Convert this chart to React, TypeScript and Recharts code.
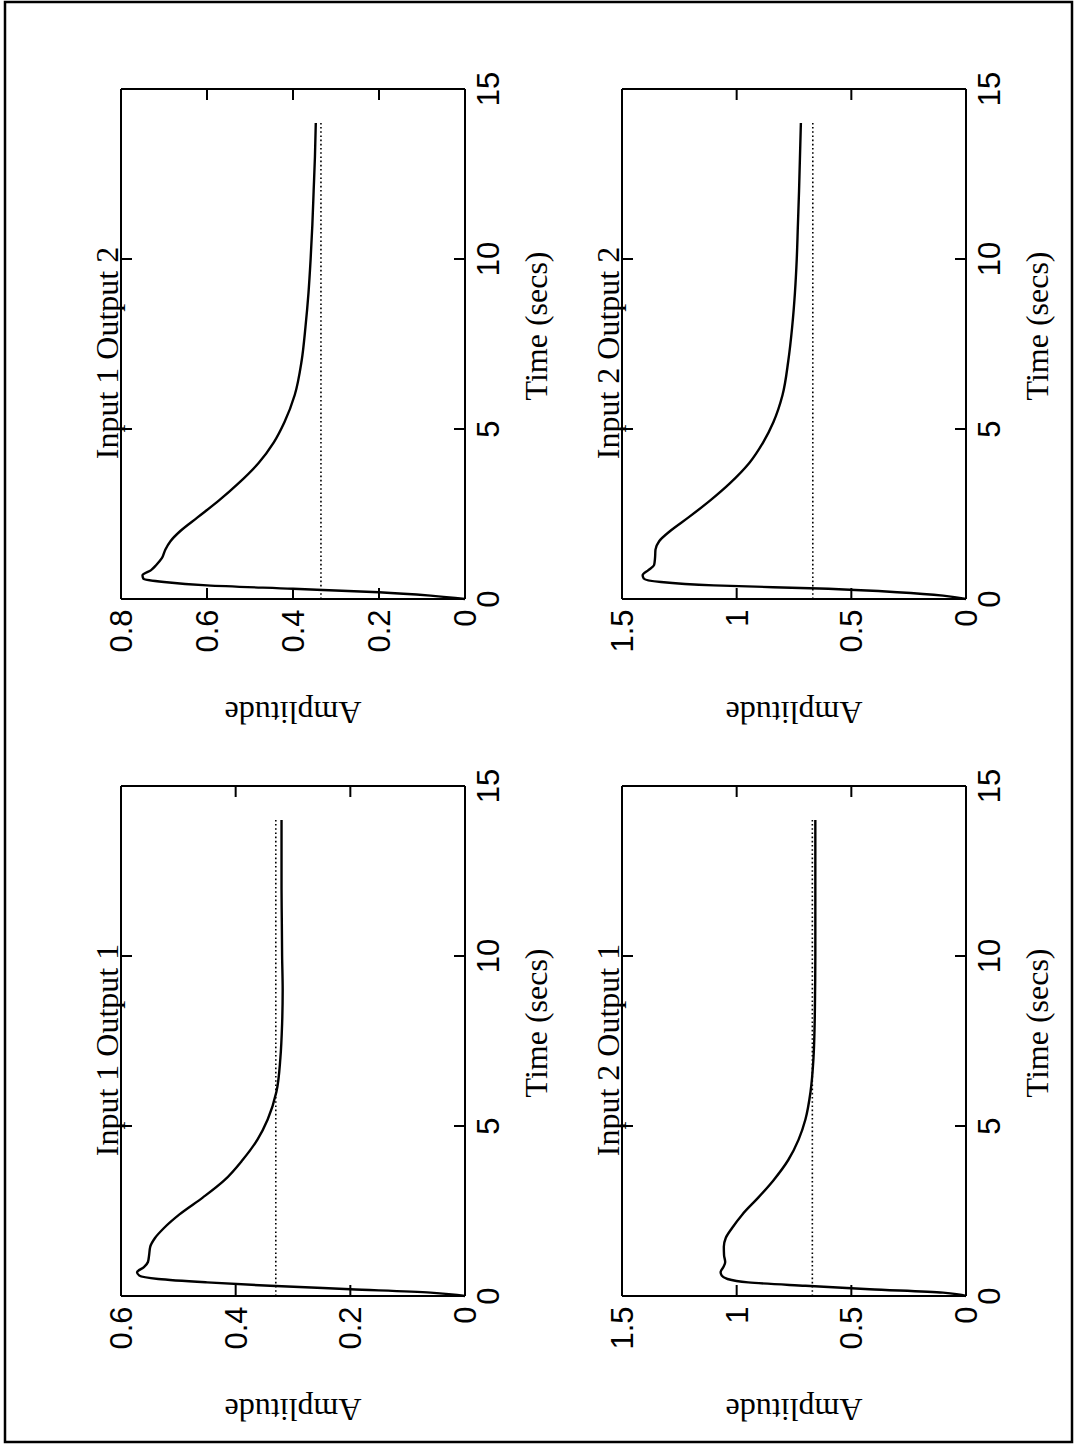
import { LineChart, Line, XAxis, YAxis } from "recharts";

// step responses (time in secs)
const times = [0, 0.1, 0.2, 0.3, 0.4, 0.5, 0.6, 0.7, 0.85, 1.0, 1.2, 1.45, 1.7, 2.0, 2.4, 2.9, 3.4, 4.0, 4.6, 5.2, 6.0, 7.0, 8.0, 9.0, 10, 11, 12, 13, 14];
const in1out1 = [0, 0.06, 0.2, 0.34, 0.45, 0.535, 0.568, 0.572, 0.56, 0.553, 0.551, 0.549, 0.541, 0.525, 0.498, 0.457, 0.42, 0.388, 0.362, 0.344, 0.329, 0.322, 0.319, 0.318, 0.319, 0.3195, 0.32, 0.32, 0.32];
const in1out2 = [0, 0.08, 0.2, 0.4, 0.6, 0.7, 0.748, 0.75, 0.73, 0.718, 0.705, 0.697, 0.685, 0.662, 0.622, 0.572, 0.527, 0.48, 0.445, 0.42, 0.396, 0.38, 0.371, 0.364, 0.359, 0.355, 0.352, 0.349, 0.347];
const in2out1 = [0, 0.1, 0.42, 0.7, 0.95, 1.04, 1.065, 1.07, 1.058, 1.05, 1.055, 1.056, 1.048, 1.02, 0.975, 0.905, 0.84, 0.775, 0.73, 0.7, 0.678, 0.665, 0.66, 0.658, 0.657, 0.657, 0.657, 0.657, 0.657];
const in2out2 = [0, 0.1, 0.3, 0.6, 1.1, 1.33, 1.405, 1.41, 1.385, 1.36, 1.356, 1.354, 1.338, 1.29, 1.21, 1.115, 1.03, 0.945, 0.885, 0.84, 0.8, 0.775, 0.758, 0.746, 0.738, 0.733, 0.728, 0.724, 0.72];
const steadyState = [0.33, 0.335, 0.67, 0.668];

const titles = ["Input 1 Output 1", "Input 1 Output 2", "Input 2 Output 1", "Input 2 Output 2"];
const amplitudeTicks = [
  [0, 0.2, 0.4, 0.6],
  [0, 0.2, 0.4, 0.6, 0.8],
  [0, 0.5, 1, 1.5],
  [0, 0.5, 1, 1.5],
];
const timeTicks = [0, 5, 10, 15];

const series = [in1out1, in1out2, in2out1, in2out2];

// plot boxes in the unrotated page (1448 x 1076)
const boxes = [
  { x: 152, y: 121 },
  { x: 849, y: 121 },
  { x: 152, y: 622 },
  { x: 849, y: 622 },
];
const BOX_W = 510;
const BOX_H = 344;

const serif = "'Liberation Serif', 'Times New Roman', serif";
const sans = "'Liberation Sans', Arial, sans-serif";
const tickStyle = { fill: "#000", fontSize: 31, fontFamily: sans };

function Panel({ index }: { index: number }) {
  const box = boxes[index];
  const values = series[index];
  const yTicks = amplitudeTicks[index];
  const data = times.map((t, i) => ({ t, y: values[i], ss: steadyState[index] }));
  const yMax = yTicks[yTicks.length - 1];

  return (
    <div style={{ position: "absolute", left: box.x - 152, top: box.y - 60 }}>
      <LineChart
        width={152 + BOX_W + 20}
        height={60 + BOX_H + 100}
        data={data}
        margin={{ top: 59, right: 19, bottom: 0, left: 0 }}
      >
        <XAxis
          dataKey="t"
          type="number"
          domain={[0, 15]}
          ticks={timeTicks}
          interval={0}
          height={100}
          tickSize={-11}
          tickMargin={23}
          tick={tickStyle}
          stroke="#000"
          strokeWidth={2}
        />
        {/* mirror axes: ticks only, to close the box */}
        <XAxis
          xAxisId="top"
          orientation="top"
          dataKey="t"
          type="number"
          domain={[0, 15]}
          ticks={timeTicks}
          interval={0}
          height={1}
          tickSize={-11}
          tickFormatter={() => ""}
          stroke="#000"
          strokeWidth={2}
        />
        <YAxis
          type="number"
          domain={[0, yMax]}
          ticks={yTicks}
          interval={0}
          width={152}
          tickSize={-11}
          tickMargin={21.5}
          tick={tickStyle}
          stroke="#000"
          strokeWidth={2}
        />
        <YAxis
          yAxisId="right"
          orientation="right"
          type="number"
          domain={[0, yMax]}
          ticks={yTicks}
          interval={0}
          width={1}
          tickSize={-11}
          tickFormatter={() => ""}
          stroke="#000"
          strokeWidth={2}
        />
        <Line
          xAxisId="top"
          yAxisId="right"
          dataKey="ss"
          type="linear"
          stroke="#000"
          strokeWidth={1.6}
          strokeDasharray="1.6 2.6"
          dot={false}
          isAnimationActive={false}
        />
        <Line
          dataKey="y"
          type="monotone"
          stroke="#000"
          strokeWidth={2.4}
          dot={false}
          isAnimationActive={false}
        />
      </LineChart>
    </div>
  );
}

export default function App() {
  return (
    <div
      style={{
        position: "absolute",
        left: 0,
        top: 0,
        width: 1076,
        height: 1448,
        background: "#fff",
        overflow: "hidden",
      }}
    >
      <div
        style={{
          position: "absolute",
          left: 0,
          top: 0,
          width: 1448,
          height: 1076,
          transformOrigin: "0 0",
          transform: "translateY(1448px) rotate(-90deg)",
        }}
      >
        {titles.map((_, i) => (
          <Panel key={i} index={i} />
        ))}
        <svg
          width={1448}
          height={1076}
          style={{ position: "absolute", left: 0, top: 0, pointerEvents: "none" }}
        >
          <rect x={6} y={5} width={1440} height={1067} fill="none" stroke="#000" strokeWidth={2.5} />
          {boxes.map((b, i) => (
            <g key={i} fontFamily={serif} fontSize={32} fill="#000">
              <text x={b.x + BOX_W / 2 - 9} y={b.y - 3} textAnchor="middle">
                {titles[i]}
              </text>
              <text x={b.x + BOX_W / 2 + 18} y={b.y + BOX_H + 82} textAnchor="middle">
                Time (secs)
              </text>
              <text
                x={b.x - 103}
                y={b.y + BOX_H / 2}
                textAnchor="middle"
                transform={`rotate(-90, ${b.x - 103}, ${b.y + BOX_H / 2})`}
              >
                Amplitude
              </text>
            </g>
          ))}
        </svg>
      </div>
    </div>
  );
}
